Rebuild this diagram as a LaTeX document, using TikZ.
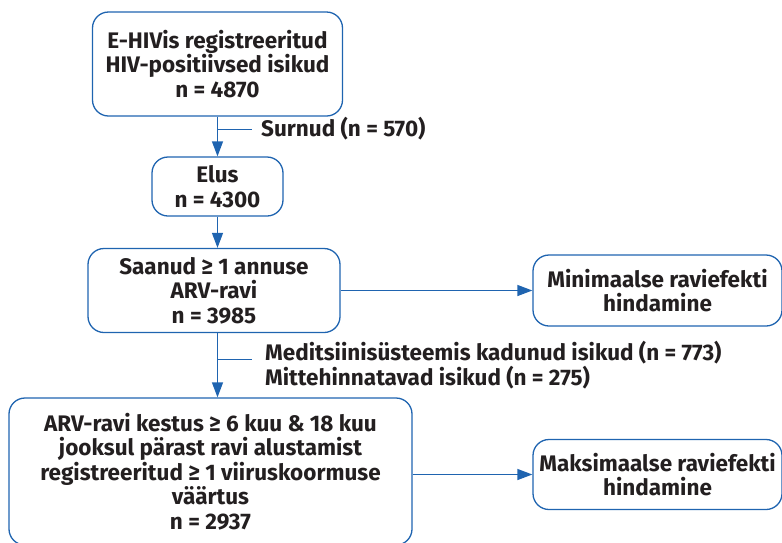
\documentclass[tikz,border=0pt]{standalone}
\usepackage{fontspec}
\setmainfont{Fira Sans}
\usetikzlibrary{arrows.meta}
\definecolor{flowblue}{HTML}{1F64B0}
\definecolor{flowtext}{HTML}{231F20}

\begin{document}
\begin{tikzpicture}[x=1pt,y=-1pt,
    box/.style={draw=flowblue, line width=1.3pt, rounded corners=16pt,
        align=center, text=flowtext, inner sep=0pt,
        font=\fontsize{22.5}{24.5}\selectfont\bfseries},
    flowline/.style={draw=flowblue, line width=1.3pt},
    flowarrow/.style={flowline, -{Triangle[length=15pt,width=11pt]}},
    exitlabel/.style={anchor=west, align=left, text=flowtext, inner sep=0pt,
        font=\fontsize{22.5}{24.5}\selectfont\bfseries}]
    \useasboundingbox (0,0) rectangle (782,542);

    % main column
    \node[box, minimum width=250pt, minimum height=104pt] (reg) at (217.5,64)
        {E-HIVis registreeritud\\HIV-positiivsed isikud\\n = 4870};
    \node[box, minimum width=131pt, minimum height=59pt] (elus) at (217.5,186.5)
        {Elus\\n = 4300};
    \node[box, minimum width=252pt, minimum height=84pt] (saanud) at (214,290.5)
        {Saanud ≥ 1 annuse\\ARV-ravi\\n = 3985};
    \node[box, minimum width=403pt, minimum height=147pt] (kestus) at (210.5,471.5)
        {ARV-ravi kestus ≥ 6 kuu \& 18 kuu\\jooksul pärast ravi alustamist\\
         registreeritud ≥ 1 viiruskoormuse\\väärtus\\n = 2937};

    % right column
    \node[box, minimum width=249pt, minimum height=71pt] (mini) at (657.5,290.5)
        {Minimaalse raviefekti\\hindamine};
    \node[box, minimum width=249pt, minimum height=70pt] (maks) at (657.5,474.5)
        {Maksimaalse raviefekti\\hindamine};

    % arrows
    \draw[flowarrow] (reg) -- (elus);
    \draw[flowarrow] (elus) -- (saanud.north -| elus.south);
    \draw[flowarrow] (saanud.south -| elus.south) -- (kestus.north -| elus.south);
    \draw[flowarrow] (saanud.east |- mini.west) -- (mini.west);
    \draw[flowarrow] (kestus.east |- maks.west) -- (maks.west);

    % exclusions
    \coordinate (s1) at (217.5,129.5);
    \coordinate (s1e) at (252,129.5);
    \draw[flowline] (s1) -- (s1e);
    \node[exitlabel] (surnud) at (261,129) {Surnud (n = 570)};
    \coordinate (s2) at (217.5,359.5);
    \coordinate (s2e) at (252,359.5);
    \draw[flowline] (s2) -- (s2e);
    \node[exitlabel] (kadunud) at (265,365)
        {Meditsiinisüsteemis kadunud isikud (n = 773)\\Mittehinnatavad isikud (n = 275)};
\end{tikzpicture}
\end{document}
